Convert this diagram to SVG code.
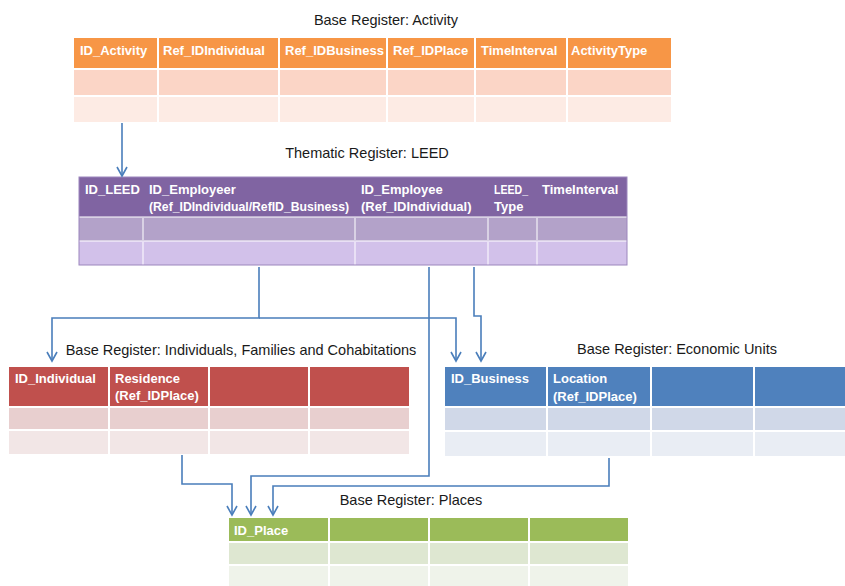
<svg xmlns="http://www.w3.org/2000/svg" width="845" height="586" viewBox="0 0 845 586">
<style>
.title{font-family:"Liberation Sans",Arial,sans-serif;font-size:14.5px;fill:#1a1a1a;text-anchor:middle}
.hd{font-family:"Liberation Sans",Arial,sans-serif;font-size:13px;font-weight:bold;fill:#ffffff}
.grid{stroke:#ffffff;stroke-width:2;fill:none}
.conn{stroke:#4a7ebb;stroke-width:1.6;fill:none}
</style>
<defs>
<marker id="arr" markerUnits="userSpaceOnUse" markerWidth="14" markerHeight="14" viewBox="-11 -7 14 14" refX="0" refY="0" orient="auto">
<path d="M-9,-5 L0,0 L-9,5" fill="none" stroke="#4a7ebb" stroke-width="1.6"/>
</marker>
</defs>
<rect width="845" height="586" fill="#ffffff"/>

<g id="activity">
<text class="title" x="386" y="25">Base Register: Activity</text>
<rect x="74" y="38" width="597" height="31" fill="#F79646"/>
<rect x="74" y="69" width="597" height="27" fill="#FBD5C6"/>
<rect x="74" y="96" width="597" height="26" fill="#FDEBE4"/>
<path class="grid" d="M158,38V122M279,38V122M387,38V122M475,38V122M567,38V122M74,69H671M74,96H671"/>
<text class="hd" x="80" y="55">ID_Activity</text>
<text class="hd" x="163" y="55">Ref_IDIndividual</text>
<text class="hd" x="285" y="55">Ref_IDBusiness</text>
<text class="hd" x="393" y="55">Ref_IDPlace</text>
<text class="hd" x="481" y="55">TimeInterval</text>
<text class="hd" x="571" y="55">ActivityType</text>
</g>

<g id="leed">
<text class="title" x="367" y="158">Thematic Register: LEED</text>
<rect x="79" y="177" width="548" height="40" fill="#8064A2"/>
<rect x="79" y="217" width="548" height="24" fill="#B3A2C9"/>
<rect x="79" y="241" width="548" height="24" fill="#D2C1EA"/>
<path class="grid" d="M143,217V265M355,217V265M488,217V265M537,217V265M79,217H627M79,241H627" stroke-opacity="0.5"/>
<rect x="79" y="177" width="548" height="88" fill="none" stroke="#9c86bd" stroke-width="1"/>
<text class="hd" x="85" y="194">ID_LEED</text>
<text class="hd" x="149" y="194">ID_Employeer</text>
<text class="hd" x="149" y="211" textLength="200" lengthAdjust="spacingAndGlyphs">(Ref_IDIndividual/RefID_Business)</text>
<text class="hd" x="361" y="194">ID_Employee</text>
<text class="hd" x="361" y="211">(Ref_IDIndividual)</text>
<text class="hd" x="494" y="194" textLength="34" lengthAdjust="spacingAndGlyphs">LEED_</text>
<text class="hd" x="494" y="211">Type</text>
<text class="hd" x="542" y="194">TimeInterval</text>
</g>

<g id="individuals">
<text class="title" x="241" y="355">Base Register: Individuals, Families and Cohabitations</text>
<rect x="9" y="367" width="400" height="40" fill="#C0504D"/>
<rect x="9" y="407" width="400" height="23" fill="#E8CFCF"/>
<rect x="9" y="430" width="400" height="24" fill="#F2E6E6"/>
<path class="grid" d="M109,367V454M209,367V454M309,367V454M9,407H409M9,430H409"/>
<text class="hd" x="15" y="383">ID_Individual</text>
<text class="hd" x="115" y="383">Residence</text>
<text class="hd" x="115" y="400">(Ref_IDPlace)</text>
</g>

<g id="economic">
<text class="title" x="677" y="354">Base Register: Economic Units</text>
<rect x="445" y="367" width="410" height="40" fill="#4F81BD"/>
<rect x="445" y="407" width="410" height="24" fill="#D0D8E8"/>
<rect x="445" y="431" width="410" height="25" fill="#E9EDF4"/>
<path class="grid" d="M547,367V456M651,367V456M754,367V456M445,407H855M445,431H855"/>
<text class="hd" x="451" y="383">ID_Business</text>
<text class="hd" x="553" y="383">Location</text>
<text class="hd" x="553" y="401">(Ref_IDPlace)</text>
</g>

<g id="places">
<text class="title" x="411" y="505">Base Register: Places</text>
<rect x="229" y="518" width="399" height="24" fill="#9BBB59"/>
<rect x="229" y="542" width="399" height="23" fill="#DEE7D1"/>
<rect x="229" y="565" width="399" height="21" fill="#EFF3EA"/>
<path class="grid" d="M329,518V586M429,518V586M529,518V586M229,542H628M229,565H628"/>
<text class="hd" x="234" y="535">ID_Place</text>
</g>

<g id="connectors">
<path class="conn" d="M122,123V176" marker-end="url(#arr)"/>
<path class="conn" d="M259,267V318H52V361" marker-end="url(#arr)"/>
<path class="conn" d="M259,318H456V361" marker-end="url(#arr)"/>
<path class="conn" d="M474,267V316H481V361" marker-end="url(#arr)"/>
<path class="conn" d="M429,267V476H251V515" marker-end="url(#arr)"/>
<path class="conn" d="M182,455V484H232V515" marker-end="url(#arr)"/>
<path class="conn" d="M609,458V486H273V515" marker-end="url(#arr)"/>
</g>
</svg>
